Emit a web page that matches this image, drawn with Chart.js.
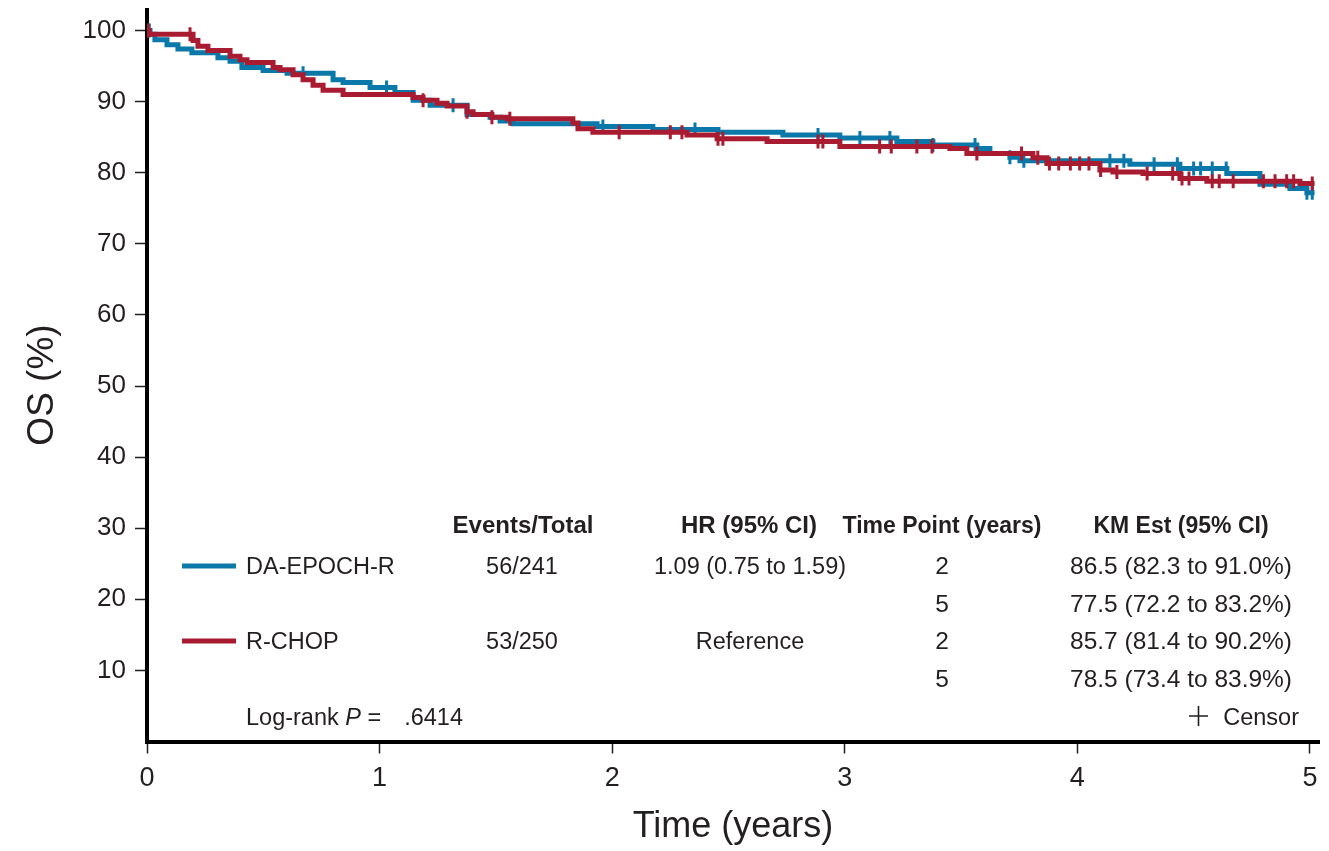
<!DOCTYPE html>
<html>
<head>
<meta charset="utf-8">
<script src="https://cdn.jsdelivr.net/npm/chart.js@4"></script>
<style>
  html, body { margin: 0; padding: 0; background: #fff; }
  #wrap { width: 1329px; height: 851px; }
</style>
</head>
<body>
<div id="wrap"><canvas id="km"></canvas></div>
<script>
const sans = '"Liberation Sans", Arial, Helvetica, sans-serif';
const ink = '#231f20';

const blue = '#0a78a8';
const red = '#a81b30';

// x axis (years) and y axis tick labels
const xTickValues = [0, 1, 2, 3, 4, 5];
const yTickValues = [10, 20, 30, 40, 50, 60, 70, 80, 90, 100];

// DA-EPOCH-R step curve: time of each drop (years) and survival after it (%)
const epochTimes = [0, 0.013, 0.034, 0.086, 0.133, 0.193, 0.305, 0.357, 0.408, 0.499, 0.602, 0.800, 0.843, 0.959, 1.066, 1.144, 1.217, 1.376, 1.475, 1.518, 1.574, 1.935, 2.175, 2.455, 2.734, 2.979, 3.224, 3.379, 3.568, 3.624, 3.710, 3.753, 4.226, 4.441, 4.643, 4.785, 4.914, 4.987, 5.02];
const epochSurv  = [100, 99.5, 98.7, 98.0, 97.4, 96.9, 96.2, 95.7, 94.8, 94.4, 94.0, 93.1, 92.7, 92.0, 91.3, 90.2, 89.5, 88.2, 87.8, 87.3, 86.9, 86.5, 86.1, 85.7, 85.3, 84.9, 84.4, 83.9, 83.4, 82.7, 82.2, 81.7, 81.2, 80.6, 79.9, 78.4, 77.8, 77.2, 77.2];

// R-CHOP step curve
const chopTimes = [0, 0.009, 0.198, 0.219, 0.262, 0.357, 0.400, 0.430, 0.542, 0.572, 0.628, 0.671, 0.714, 0.757, 0.843, 1.144, 1.187, 1.247, 1.290, 1.376, 1.402, 1.483, 1.548, 1.831, 1.853, 1.917, 2.322, 2.451, 2.666, 2.979, 3.452, 3.525, 3.809, 3.869, 4.097, 4.153, 4.282, 4.441, 4.557, 4.957, 5.02];
const chopSurv  = [100, 99.5, 98.6, 97.8, 97.2, 96.4, 95.9, 95.5, 94.8, 94.5, 93.8, 93.1, 92.3, 91.6, 91.0, 90.6, 90.2, 89.8, 89.4, 88.6, 88.2, 87.8, 87.6, 87.0, 86.2, 85.7, 85.3, 84.8, 84.4, 83.7, 83.4, 82.7, 82.1, 81.3, 80.4, 80.1, 79.9, 79.2, 78.8, 78.5, 78.5];

// censor times (years)
const epochCensor = [0.01, 0.671, 1.03, 1.316, 1.96, 2.356, 2.885, 3.065, 3.194, 3.379, 3.56, 3.71, 3.77, 4.14, 4.20, 4.33, 4.43, 4.50, 4.53, 4.58, 4.64, 4.987, 5.01];
const chopCensor = [0.005, 0.185, 1.187, 1.376, 1.483, 1.56, 2.03, 2.25, 2.30, 2.455, 2.476, 2.885, 2.906, 3.15, 3.20, 3.31, 3.375, 3.568, 3.76, 3.83, 3.88, 3.92, 3.97, 4.01, 4.05, 4.10, 4.17, 4.30, 4.41, 4.45, 4.48, 4.58, 4.61, 4.67, 4.80, 4.85, 4.90, 4.93, 5.01];

// table beside the curves
const tableHeaders = ['Events/Total', 'HR (95% CI)', 'Time Point (years)', 'KM Est (95% CI)'];
const armNames = ['DA-EPOCH-R', 'R-CHOP'];
const armColors = [blue, red];
const eventsTotal = ['56/241', '53/250'];
const hazardRatios = ['1.09 (0.75 to 1.59)', 'Reference'];
const timePoints = ['2', '5', '2', '5'];
const kmEstimates = ['86.5 (82.3 to 91.0%)', '77.5 (72.2 to 83.2%)', '85.7 (81.4 to 90.2%)', '78.5 (73.4 to 83.9%)'];
const logRankP = '.6414';

const survAt = (times, surv, t) => {
    let v = surv[0];
    for (let i = 0; i < times.length; i++) {
        if (times[i] <= t) v = surv[i];
    }
    return v;
};

const curve = (times, surv) => times.map((t, i) => ({ x: t, y: surv[i] }));
const censors = (marks, times, surv) => marks.map((t) => ({ x: t, y: survAt(times, surv, t) }));

const tablePlugin = {
    id: 'kmTable',
    afterDraw(chart) {
        const ctx = chart.ctx;
        ctx.save();
        ctx.fillStyle = ink;
        ctx.textBaseline = 'alphabetic';

        // y axis title
        ctx.save();
        ctx.translate(53, 385);
        ctx.rotate(-Math.PI / 2);
        ctx.textAlign = 'center';
        ctx.font = '37px ' + sans;
        ctx.fillText('OS (%)', 0, 0);
        ctx.restore();

        // headers (baselines)
        const headY = 533;
        ctx.textAlign = 'center';
        ctx.font = 'bold 24px ' + sans;
        ctx.fillText(tableHeaders[0], 523, headY);
        ctx.fillText(tableHeaders[1], 749, headY);
        ctx.font = 'bold 23px ' + sans;
        ctx.fillText(tableHeaders[2], 942, headY);
        ctx.fillText(tableHeaders[3], 1181, headY);

        const rowY = [574, 612, 649, 687];
        armNames.forEach((name, i) => {
            const y = rowY[i * 2];
            ctx.strokeStyle = armColors[i];
            ctx.lineWidth = 5;
            ctx.beginPath();
            ctx.moveTo(182, y - 8);
            ctx.lineTo(236, y - 8);
            ctx.stroke();
            ctx.textAlign = 'left';
            ctx.font = '23.5px ' + sans;
            ctx.fillText(name, 246, y);
            ctx.textAlign = 'center';
            ctx.fillText(eventsTotal[i], 522, y);
            ctx.fillText(hazardRatios[i], 750, y);
        });

        ctx.font = '24.5px ' + sans;
        timePoints.forEach((tp, i) => {
            ctx.textAlign = 'center';
            ctx.fillText(tp, 942, rowY[i]);
            ctx.textAlign = 'left';
            ctx.fillText(kmEstimates[i], 1070, rowY[i]);
        });

        // log-rank line
        const lrY = 725;
        ctx.textAlign = 'left';
        ctx.font = '23.5px ' + sans;
        let x = 246;
        ctx.fillText('Log-rank ', x, lrY);
        x += ctx.measureText('Log-rank ').width;
        ctx.font = 'italic 23.5px ' + sans;
        ctx.fillText('P', x, lrY);
        x += ctx.measureText('P').width;
        ctx.font = '23.5px ' + sans;
        ctx.fillText(' =', x, lrY);
        ctx.textAlign = 'right';
        ctx.fillText(logRankP, 463, lrY);

        ctx.fillText('Censor', 1299, lrY);
        ctx.strokeStyle = ink;
        ctx.lineWidth = 1.6;
        ctx.beginPath();
        ctx.moveTo(1189, lrY - 9);
        ctx.lineTo(1208, lrY - 9);
        ctx.moveTo(1198.5, lrY - 19);
        ctx.lineTo(1198.5, lrY + 1);
        ctx.stroke();
        ctx.restore();
    },
};

const censorStyle = (color) => ({
    type: 'scatter',
    showLine: false,
    pointStyle: 'line',
    rotation: 90,
    pointRadius: 7,
    pointHoverRadius: 7,
    borderColor: color,
    backgroundColor: color,
    borderWidth: 3,
});

new Chart(document.getElementById('km'), {
    type: 'line',
    data: {
        datasets: [
            {
                label: 'R-CHOP',
                data: curve(chopTimes, chopSurv),
                borderColor: red,
                borderWidth: 5,
                stepped: 'before',
                pointRadius: 0,
                order: 1,
            },
            {
                ...censorStyle(red),
                label: 'R-CHOP censor',
                data: censors(chopCensor, chopTimes, chopSurv),
                order: 0,
            },
            {
                label: 'DA-EPOCH-R',
                data: curve(epochTimes, epochSurv),
                borderColor: blue,
                borderWidth: 5,
                stepped: 'before',
                pointRadius: 0,
                order: 3,
            },
            {
                ...censorStyle(blue),
                label: 'DA-EPOCH-R censor',
                data: censors(epochCensor, epochTimes, epochSurv),
                order: 2,
            },
        ],
    },
    options: {
        responsive: true,
        maintainAspectRatio: false,
        animation: false,
        layout: { padding: { left: 0, top: 7, right: 10, bottom: 0 } },
        plugins: {
            legend: { display: false },
            tooltip: { enabled: false },
        },
        scales: {
            x: {
                type: 'linear',
                min: 0,
                max: 5.039,
                afterBuildTicks: (scale) => {
                    scale.ticks = xTickValues.map((v) => ({ value: v }));
                },
                afterFit: (scale) => {
                    scale.height = 851 - 741.5;
                },
                ticks: {
                    color: ink,
                    font: { family: sans, size: 27 },
                    padding: 9,
                },
                grid: {
                    drawOnChartArea: false,
                    tickLength: 12,
                    tickWidth: 1.5,
                    color: ink,
                },
                border: { color: '#000', width: 4 },
                title: {
                    display: true,
                    text: 'Time (years)',
                    color: ink,
                    font: { family: sans, size: 36 },
                    padding: { top: 0, bottom: 2 },
                },
            },
            y: {
                min: 0,
                max: 102.9,
                afterBuildTicks: (scale) => {
                    scale.ticks = yTickValues.map((v) => ({ value: v }));
                },
                afterFit: (scale) => {
                    scale.width = 147;
                    scale.paddingTop = 0;
                    scale.paddingBottom = 0;
                },
                ticks: {
                    color: ink,
                    font: { family: sans, size: 26 },
                    padding: 9,
                },
                grid: {
                    drawOnChartArea: false,
                    tickLength: 12,
                    tickWidth: 1.5,
                    color: ink,
                },
                border: { color: '#000', width: 4 },
            },
        },
    },
    plugins: [tablePlugin],
});
</script>
</body>
</html>
